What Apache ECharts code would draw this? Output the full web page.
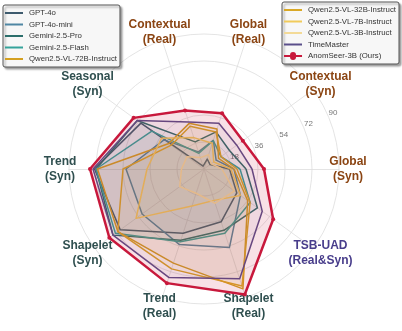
<!DOCTYPE html>
<html>
<head>
<meta charset="utf-8">
<script src="https://cdn.jsdelivr.net/npm/echarts@6/dist/echarts.min.js"></script>
<style>
  html, body { margin: 0; padding: 0; background: #fff; }
  #main { width: 402px; height: 331px; }
</style>
</head>
<body>
<div id="main"></div>
<script>
// axes, counter-clockwise from 3 o'clock
var indicators = ['Global\n(Syn)', 'Contextual\n(Syn)', 'Global\n(Real)', 'Contextual\n(Real)', 'Seasonal\n(Syn)',
    'Trend\n(Syn)', 'Shapelet\n(Syn)', 'Trend\n(Real)', 'Shapelet\n(Real)', 'TSB-UAD\n(Real&Syn)'];
var nameColors = ['#8B4513', '#8B4513', '#8B4513', '#8B4513', '#2F4F4F',
    '#2F4F4F', '#2F4F4F', '#2F4F4F', '#2F4F4F', '#483D8B'];
var ringTicks = [18, 36, 54, 72, 90];

var modelNames = ['GPT-4o', 'GPT-4o-mini', 'Gemini-2.5-Pro', 'Gemini-2.5-Flash', 'Qwen2.5-VL-72B-Instruct',
    'Qwen2.5-VL-32B-Instruct', 'Qwen2.5-VL-7B-Instruct', 'Qwen2.5-VL-3B-Instruct', 'TimeMaster', 'AnomSeer-3B (Ours)'];
var modelColors = ['#3E5B6E', '#4F86A3', '#2B6E6B', '#35A39B', '#D4A021',
    '#D9A826', '#F1CB5B', '#F3DA97', '#5A4F8A', '#C8193C'];

var gpt4o       = [17, 5, 7, 2, 52, 73, 69, 45, 37, 27];
var gpt4oMini   = [20, 10, 20, 12, 33, 52, 51, 53, 55, 30];
var geminiPro   = [28, 21, 26, 19, 55, 72, 75, 50, 43, 44];
var geminiFlash = [24, 14, 20, 11, 43, 72, 73, 51, 45, 38];
var qwen72b     = [20, 12, 28, 32, 29, 71, 71, 66, 84, 36];
var qwen32b     = [22, 14, 26, 30, 27, 54, 71, 70, 82, 38];
var qwen7b      = [18, 8, 18, 22, 35, 38, 56, 26, 22, 30];
var qwen3b      = [12, 6, 10, 8, 14, 15, 20, 17, 24, 25];
var timeMaster  = [32, 27, 32, 33, 55, 74, 75, 76, 77, 48];
var anomSeer    = [40, 32, 39, 41, 58, 76, 78, 80, 88, 57];

var allValues = [gpt4o, gpt4oMini, geminiPro, geminiFlash, qwen72b, qwen32b, qwen7b, qwen3b, timeMaster, anomSeer];

var font = '"Comic Sans MS", "Liberation Sans", sans-serif';
var lineIcon = 'path://M0,0L0,0M0,3H18V5H0ZM18,8L18,8';
var markIcon = 'path://M0,0L0,0M0,3H6A3,3 0 0 1 12,3H18V5H12A3,3 0 0 1 6,5H0ZM18,8L18,8';

function legendData(from, to) {
    var out = [];
    for (var i = from; i < to; i++) {
        out.push({ name: modelNames[i], icon: i == 9 ? markIcon : lineIcon });
    }
    return out;
}

var legendBox = {
    orient: 'vertical',
    itemWidth: 18,
    itemHeight: 8,
    itemGap: 3.5,
    padding: [4, 3, 4, 2],
    backgroundColor: '#f7f7f7',
    borderColor: '#555',
    borderWidth: 1,
    borderRadius: 2,
    shadowBlur: 2,
    shadowOffsetX: 2,
    shadowOffsetY: 2,
    shadowColor: 'rgba(0,0,0,0.35)',
    itemStyle: { borderWidth: 0 },
    selectedMode: false,
    textStyle: { fontFamily: font, fontSize: 7.8, color: '#333', padding: [0, 0, 0, 1] }
};

var series = [];
for (var i = 0; i < allValues.length; i++) {
    var ours = i == 9;
    series.push({
        type: 'radar',
        name: modelNames[i],
        z: 2 + i,
        symbol: ours ? 'circle' : 'none',
        symbolSize: 4,
        itemStyle: { color: modelColors[i] },
        lineStyle: { color: modelColors[i], width: ours ? 2.5 : 1.5 },
        areaStyle: { color: modelColors[i], opacity: ours ? 0.13 : 0.06 },
        data: [{ name: modelNames[i], value: allValues[i] }]
    });
}

var option = {
    animation: false,
    backgroundColor: '#fff',
    legend: [
        Object.assign({}, legendBox, { left: 3, top: 5, data: legendData(0, 5) }),
        Object.assign({}, legendBox, { right: 3, top: 2, data: legendData(5, 10) })
    ],
    // only used to place the ring labels off the data axes
    polar: { center: [215, 170], radius: 135 },
    angleAxis: { type: 'value', min: 0, max: 360, startAngle: 24, show: false },
    radiusAxis: {
        type: 'value', min: 0, max: 90, interval: 18,
        axisLine: { show: false }, axisTick: { show: false }, splitLine: { show: false },
        axisLabel: {
            color: '#777', fontSize: 8, fontFamily: font, margin: 2,
            formatter: function (v) { return ringTicks.indexOf(v) >= 0 ? v : ''; }
        }
    },
    radar: {
        center: [204, 169],
        radius: 135,
        startAngle: 0,
        shape: 'circle',
        splitNumber: 5,
        nameGap: 9,
        indicator: indicators.map(function (n, i) {
            return { name: n, min: 0, max: 90, color: nameColors[i] };
        }),
        axisName: { fontFamily: font, fontSize: 12, fontWeight: 'bold', lineHeight: 15, align: 'center', verticalAlign: 'middle' },
        axisLine: { lineStyle: { color: '#dddddd', width: 0.8 } },
        splitLine: { lineStyle: { color: '#dddddd', width: 0.8 } },
        splitArea: { show: false }
    },
    series: series
};

var myChart = echarts.init(document.getElementById('main'));
myChart.setOption(option);
</script>
</body>
</html>
